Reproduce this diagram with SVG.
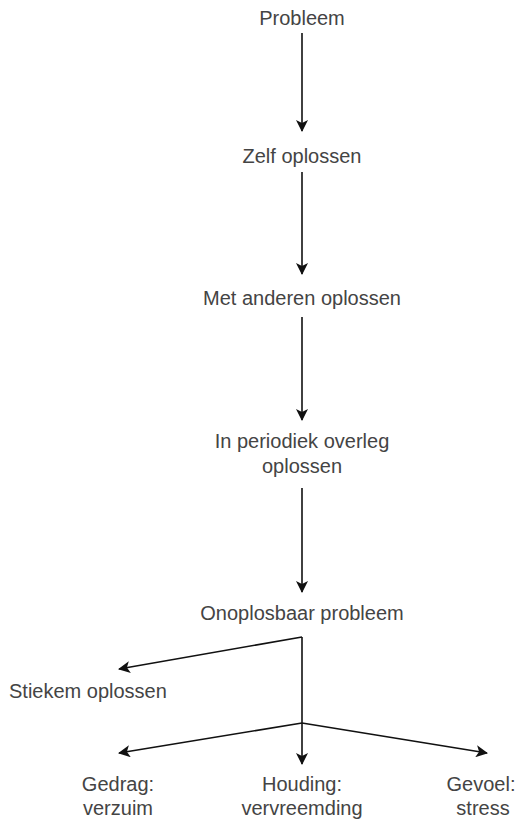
<svg xmlns="http://www.w3.org/2000/svg" width="520" height="821" viewBox="0 0 520 821">
<defs>
<style>
text{font-family:"Liberation Sans",Arial,sans-serif;font-size:20px;fill:#444;text-anchor:middle}
.c line{stroke:#111;stroke-width:1.6;fill:none}
</style>
<marker id="ah" viewBox="0 0 12 12" refX="11" refY="6" markerWidth="12" markerHeight="12" markerUnits="userSpaceOnUse" orient="auto">
<path d="M0,0 L12,6 L0,12 L3,6 Z" fill="#111"/>
</marker>
</defs>
<rect width="520" height="821" fill="#fff"/>
<g id="n1"><text x="302" y="25">Probleem</text></g>
<g id="n2"><text x="302" y="163">Zelf oplossen</text></g>
<g id="n3"><text x="302" y="305">Met anderen oplossen</text></g>
<g id="n4"><text x="302" y="448">In periodiek overleg</text><text x="302" y="473">oplossen</text></g>
<g id="n5"><text x="302" y="620">Onoplosbaar probleem</text></g>
<g id="n6"><text x="9" y="698" style="text-anchor:start">Stiekem oplossen</text></g>
<g id="n7"><text x="118" y="791">Gedrag:</text><text x="118" y="815">verzuim</text></g>
<g id="n8"><text x="302" y="791">Houding:</text><text x="302" y="815">vervreemding</text></g>
<g id="n9"><text x="481" y="791">Gevoel:</text><text x="483" y="815">stress</text></g>
<g class="c" id="connectors">
<line x1="302" y1="33" x2="302" y2="131" marker-end="url(#ah)"/>
<line x1="302" y1="172" x2="302" y2="274" marker-end="url(#ah)"/>
<line x1="302" y1="317" x2="302" y2="420" marker-end="url(#ah)"/>
<line x1="302" y1="488" x2="302" y2="592" marker-end="url(#ah)"/>
<line x1="302" y1="637" x2="302" y2="764" marker-end="url(#ah)"/>
<line x1="302" y1="637" x2="119" y2="669" marker-end="url(#ah)"/>
<line x1="302" y1="723" x2="119" y2="753" marker-end="url(#ah)"/>
<line x1="302" y1="723" x2="487" y2="753" marker-end="url(#ah)"/>
</g>
</svg>
